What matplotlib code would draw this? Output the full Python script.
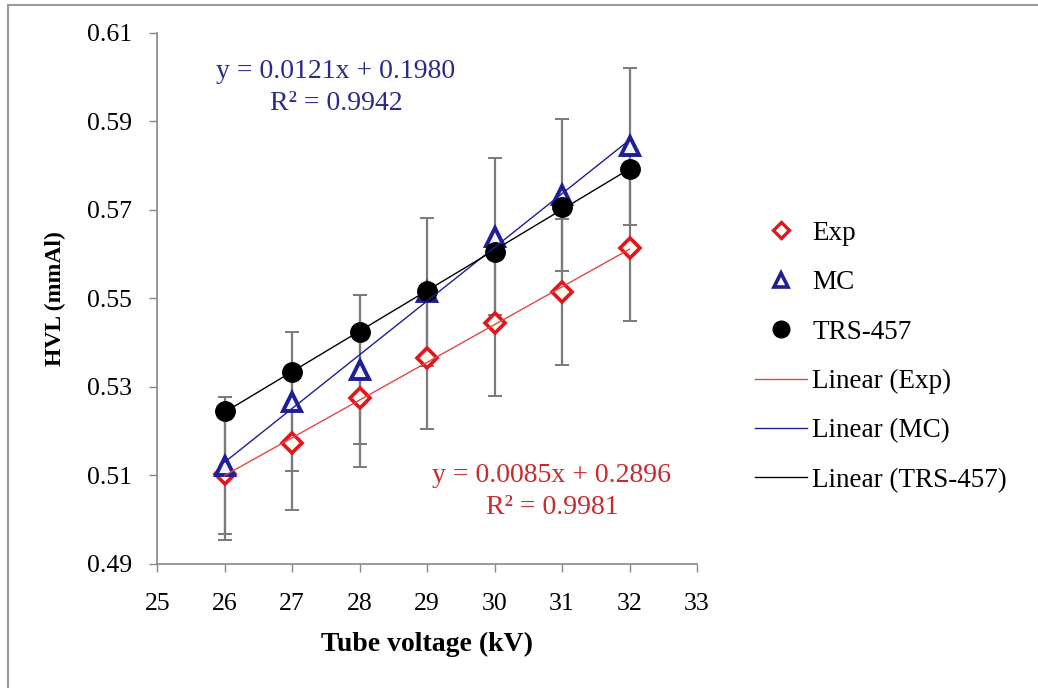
import numpy as np
import matplotlib
matplotlib.use('Agg')
from matplotlib import pyplot as plt
from matplotlib.lines import Line2D

#Data
kv = np.array([26, 27, 28, 29, 30, 31, 32])
hvl_exp = np.array([0.5103, 0.5172, 0.5275, 0.5365, 0.5444, 0.5514, 0.5614])
hvl_mc = np.array([0.5122, 0.5266, 0.5339, 0.5514, 0.5639, 0.5733, 0.5843])
hvl_trs = np.array([0.5246, 0.5333, 0.5424, 0.5516, 0.5605, 0.5707, 0.5791])
err_exp = np.array([0.0150, 0.0150, 0.0157, 0.0160, 0.0164, 0.0165, 0.0165])
err_mc = np.array([0.0155, 0.0157, 0.0168, 0.0167, 0.0177, 0.0172, 0.0178])

eq_mc = ['y = 0.0121x + 0.1980', 'R² = 0.9942']
eq_exp = ['y = 0.0085x + 0.2896', 'R² = 0.9981']

xticks = np.arange(25, 34, 1)
yticks = np.arange(0.49, 0.6101, 0.02)

red = '#E3141C'
blue = '#1E1E96'
ebar = '#7A7A7A'

plt.rcParams['font.family'] = ['Liberation Serif', 'DejaVu Serif']

W, H = 1038, 688
fig = plt.figure(figsize=(W/100, H/100), dpi=100)
ax = fig.add_axes([0.1515, 0.1805, 0.52, 0.772])

#error bars
for y, e in [(hvl_exp, err_exp), (hvl_mc, err_mc)]:
    line, caps, bars = ax.errorbar(kv, y, yerr=e, fmt='none', ecolor=ebar, elinewidth=1.6,
                                   capsize=4.8, capthick=1.4, zorder=2)
    for c in caps:
        c.set_color('#2a2a2a')

#markers
ax.plot(kv, hvl_exp, linestyle='none', marker='D', ms=10, mfc='#FFFDF0', mec=red, mew=2.6, zorder=4)
ax.plot(kv, hvl_mc, linestyle='none', marker='^', ms=13, mfc='#F4F4FF', mec=blue, mew=2.8, zorder=5)
ax.plot(kv, hvl_trs, linestyle='none', marker='o', ms=14, mfc='black', mec='black', zorder=6)

#linear trend lines
for y, col in [(hvl_exp, '#E04848'), (hvl_mc, blue), (hvl_trs, 'black')]:
    p = np.polyfit(kv, y, 1)
    ax.plot(kv, np.polyval(p, kv), color=col, lw=1.0, zorder=7)

ax.set_xlim(25, 33)
ax.set_ylim(0.49, 0.61)
ax.set_xticks(xticks)
ax.set_yticks(yticks)
ax.set_yticklabels(['%.2f' % t for t in yticks])
ax.tick_params(axis='both', direction='out', length=6, width=1, color='#888888', labelsize=18.5)
ax.tick_params(axis='y', pad=12)
ax.tick_params(axis='x', pad=15)
for s in ['top', 'right']:
    ax.spines[s].set_visible(False)
for s in ['left', 'bottom']:
    ax.spines[s].set_color('#888888')
    ax.spines[s].set_linewidth(1.2)

ax.set_xlabel('Tube voltage (kV)', fontsize=20, fontweight='bold', labelpad=12)
ax.set_ylabel('HVL (mmAl)', fontsize=17, fontweight='bold', labelpad=15)

#trendline equations (pixel positions of the reference, top-left origin)
def ftext(px, py, s, col):
    fig.text(px/W, 1-py/H, s, fontsize=20, color=col, ha='center', va='center')

ftext(336, 72, eq_mc[0], '#2A2A8A')
ftext(336, 103, eq_mc[1], '#2A2A8A')
ftext(552, 476, eq_exp[0], '#C82A30')
ftext(552, 508, eq_exp[1], '#C82A30')

#legend
handles = [Line2D([], [], linestyle='none', marker='D', ms=8, mfc='white', mec=red, mew=2.4),
           Line2D([], [], linestyle='none', marker='^', ms=10, mfc='white', mec=blue, mew=2.6),
           Line2D([], [], linestyle='none', marker='o', ms=12, color='black'),
           Line2D([], [], color='#E04848', lw=1.0),
           Line2D([], [], color=blue, lw=1.0),
           Line2D([], [], color='black', lw=1.0)]
labels = ['Exp', 'MC', 'TRS-457', 'Linear (Exp)', 'Linear (MC)', 'Linear (TRS-457)']
fig.legend(handles, labels, loc='upper left', bbox_to_anchor=(0.7035, 0.7145), frameon=False,
           fontsize=19.5, handlelength=1.95, handletextpad=0.18, labelspacing=0.9)

#outer frame
fig.add_artist(Line2D([8/W, 1], [1-5/H, 1-5/H], color='#9a9a9a', lw=1.5))
fig.add_artist(Line2D([8/W, 8/W], [0, 1-5/H], color='#9a9a9a', lw=1.5))

fig.savefig('out.png', dpi=100)
